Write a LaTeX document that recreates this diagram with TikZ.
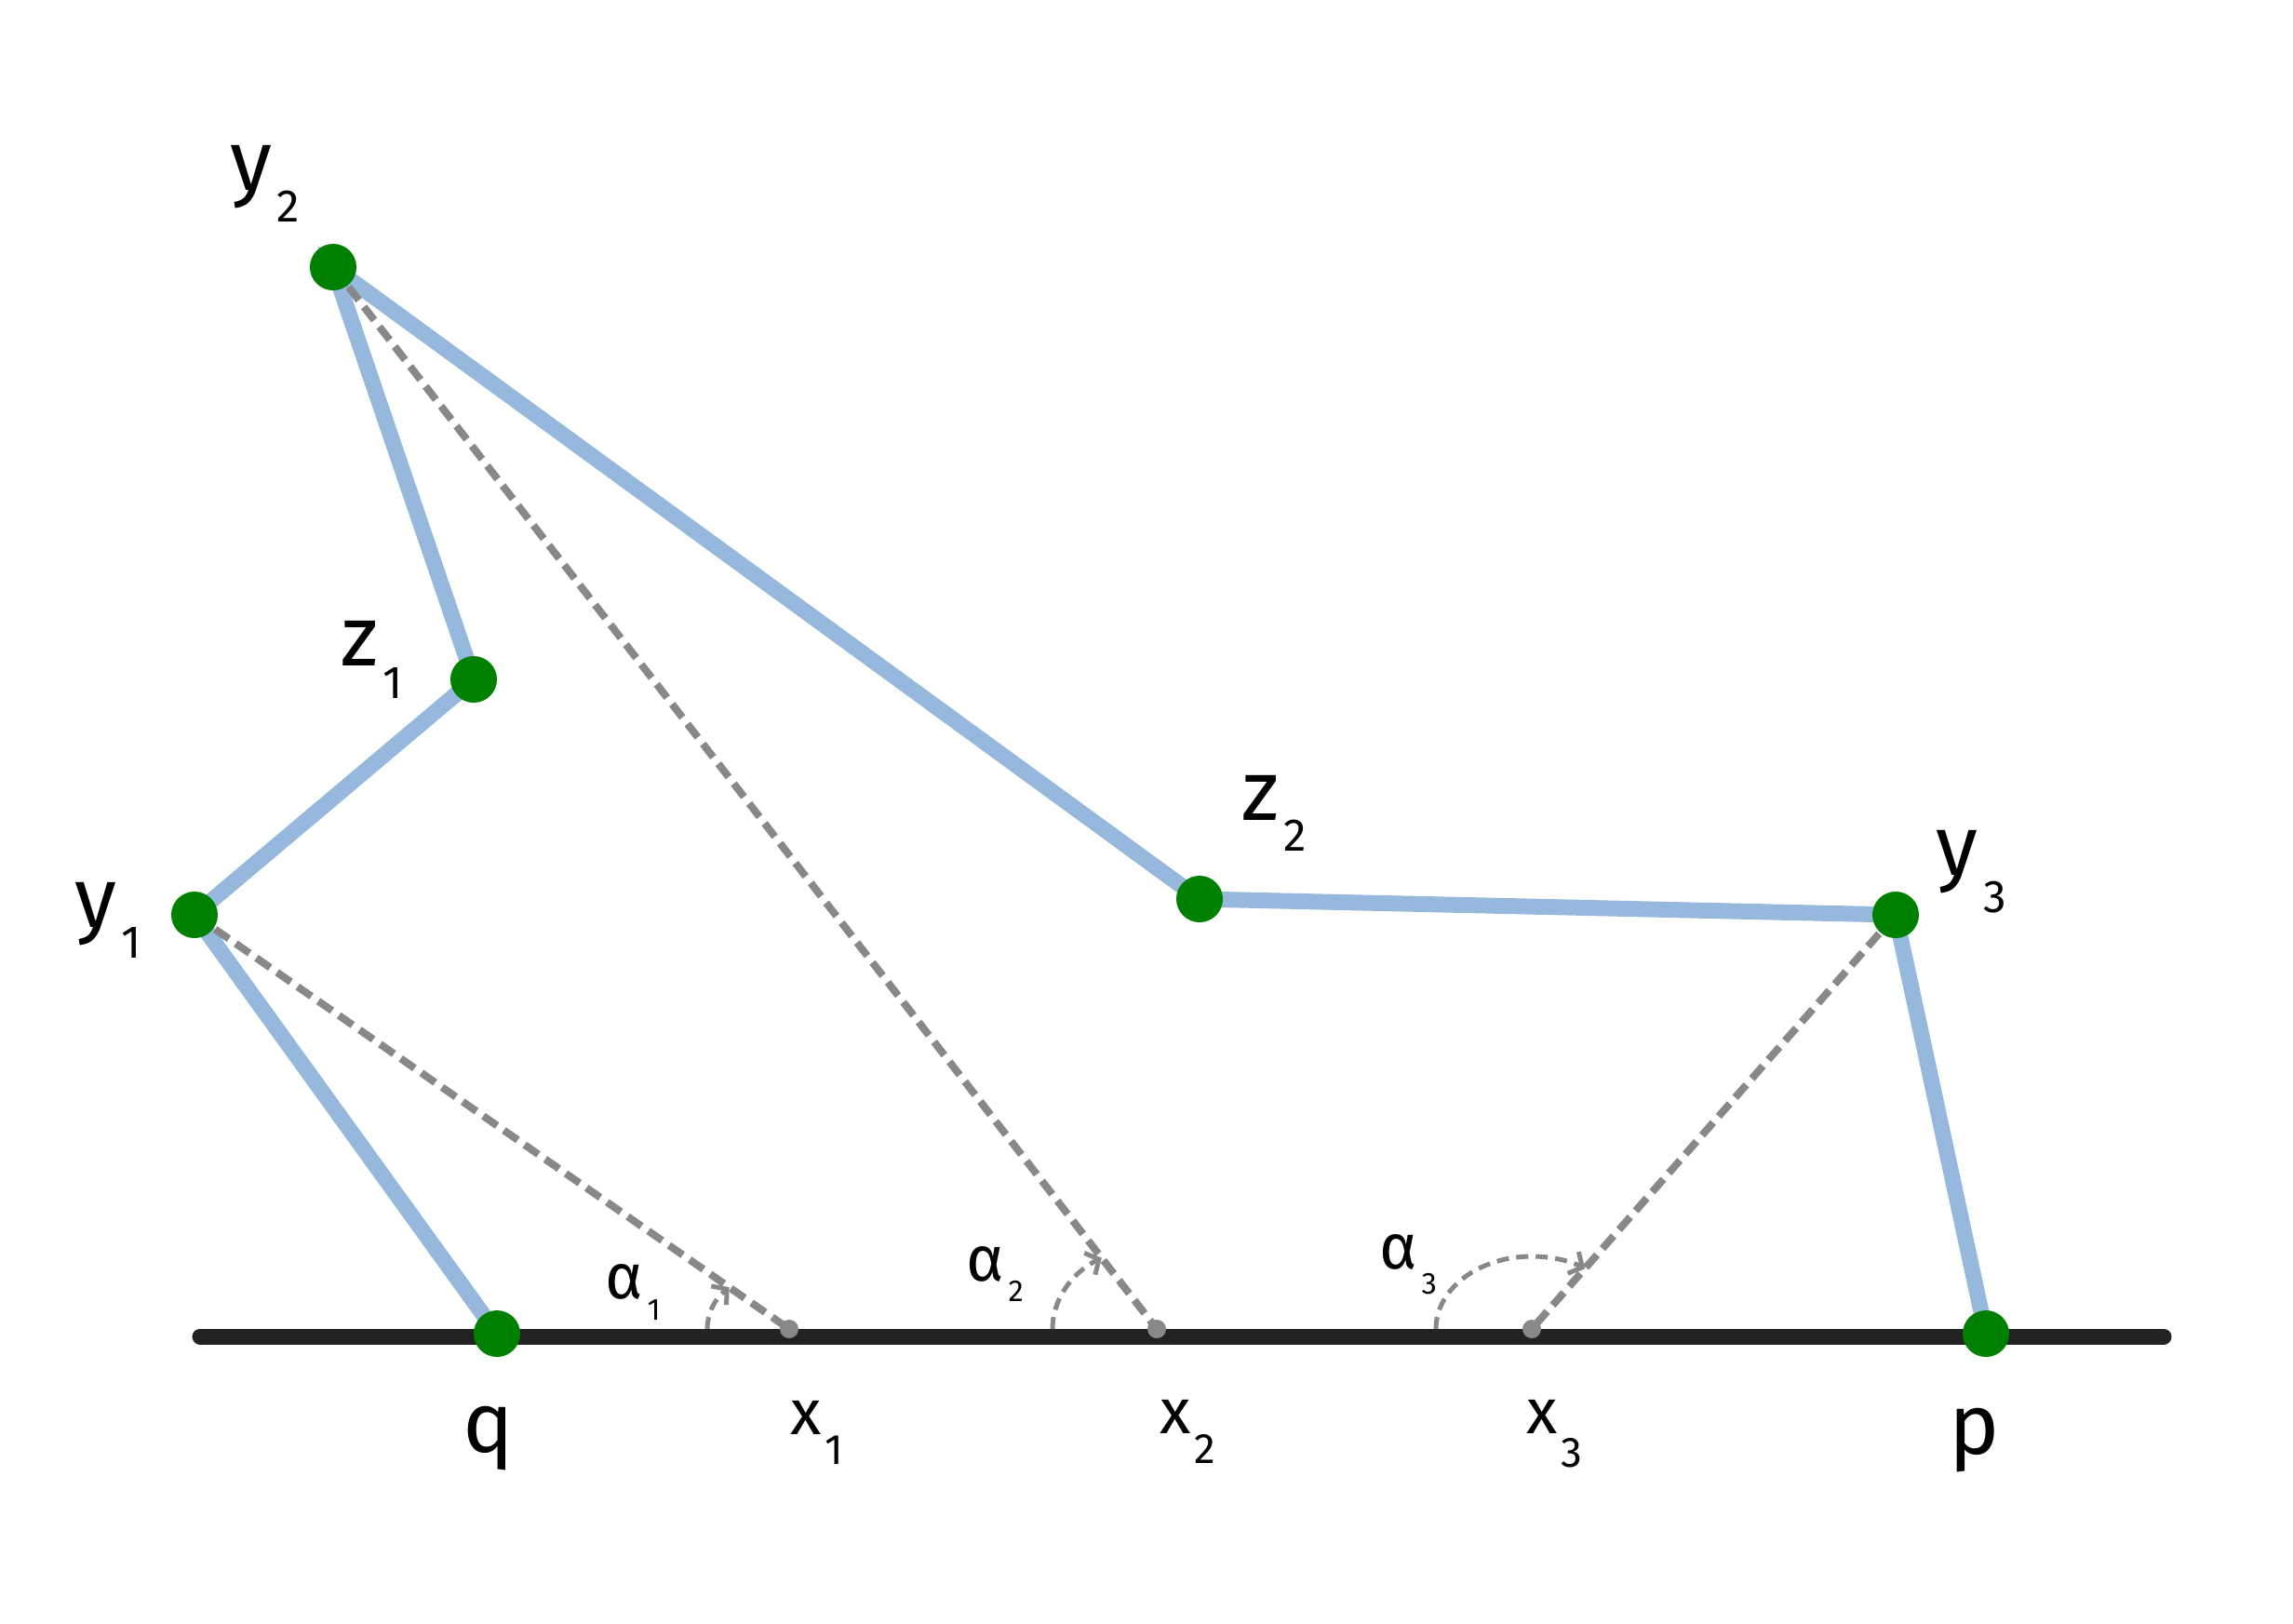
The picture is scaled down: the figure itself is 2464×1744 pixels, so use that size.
\documentclass[tikz,border=0pt]{standalone}
\usepackage{fontspec}
\setmainfont{Fira Sans}[Numbers=Lining]
\usetikzlibrary{arrows.meta}
\definecolor{polyblue}{RGB}{149,184,220}
\definecolor{dotgreen}{RGB}{0,128,0}
\definecolor{axisblack}{RGB}{34,34,34}
\definecolor{dashgray}{RGB}{136,136,136}
% letter, sub-digit, drop
\newcommand{\biglbl}[3]{\fontsize{26}{28}\selectfont #1\hspace{0.06cm}\raisebox{-#3}{\fontsize{14}{16}\selectfont #2}}
\newcommand{\midlbl}[3]{\fontsize{19.5}{22}\selectfont #1\hspace{0.045cm}\raisebox{-#3}{\fontsize{13}{15}\selectfont #2}}
\newcommand{\anglbl}[3]{\fontsize{19.5}{22}\selectfont #1\hspace{0.05cm}\raisebox{-#3}{\fontsize{9.3}{11}\selectfont #2}}
\tikzset{
  polyline/.style={draw=polyblue, line width=0.17cm},
  axisline/.style={draw=axisblack, line width=0.17cm, line cap=round},
  dashline/.style={draw=dashgray, line width=0.08cm, dash pattern=on 0.18cm off 0.09cm},
  anglearc/.style={draw=dashgray, line width=0.05cm, dash pattern=on 0.13cm off 0.08cm,
    -{Straight Barb[length=1.1mm,width=2.6mm,line width=0.05cm]}},
  gdot/.style={circle, fill=dotgreen, minimum size=0.5cm, inner sep=0pt},
  xdot/.style={circle, fill=dashgray, minimum size=0.2cm, inner sep=0pt},
  lbl/.style={anchor=base west, inner sep=0pt, outer sep=0pt, text=black}
}
\begin{document}
\begin{tikzpicture}[x=0.01cm, y=-0.01cm]
\useasboundingbox (0,0) rectangle (2464,1744);
% points
\coordinate (L) at (215,1436);
\coordinate (R) at (2325,1436);
\coordinate (q) at (534,1433);
\coordinate (p) at (2134,1433);
\coordinate (y1) at (209,983);
\coordinate (z1) at (509,730);
\coordinate (y2) at (358,287);
\coordinate (z2) at (1289,966);
\coordinate (y3) at (2037,983);
\coordinate (x1) at (848,1428);
\coordinate (x2) at (1243,1428);
\coordinate (x3) at (1646,1428);
% axis
\draw[axisline] (L) -- (R);
% polygon path
\draw[polyline] (q) -- (y1) -- (z1) -- (y2) -- (z2) -- (y3) -- (p);
% dashed connectors
\draw[dashline] (y1) -- (x1);
\draw[dashline] (y2) -- (x2);
\draw[dashline] (y3) -- (x3);
% angle arcs
\draw[anglearc] (x1) ++(-88,0) arc[start angle=180, end angle=137.1, x radius=0.88cm, y radius=0.66cm];
\draw[anglearc] (x2) ++(-112,0) arc[start angle=180, end angle=121.9, x radius=1.12cm, y radius=0.90cm];
\draw[anglearc] (x3) ++(-103,0) arc[start angle=180, end angle=56.3, x radius=1.03cm, y radius=0.78cm];
% dots
\node[xdot] (dx1) at (x1) {};
\node[xdot] (dx2) at (x2) {};
\node[xdot] (dx3) at (x3) {};
\node[gdot] (dq) at (q) {};
\node[gdot] (dp) at (p) {};
\node[gdot] (dy1) at (y1) {};
\node[gdot] (dz1) at (z1) {};
\node[gdot] (dy2) at (y2) {};
\node[gdot] (dz2) at (z2) {};
\node[gdot] (dy3) at (y3) {};
% labels
\node[lbl] (ly1) at (80,996) {\biglbl{y}{1}{0.33cm}};
\node[lbl] (lz1) at (366,715) {\biglbl{z}{1}{0.35cm}};
\node[lbl] (ly2) at (247,204) {\biglbl{y}{2}{0.34cm}};
\node[lbl] (lz2) at (1334,881) {\biglbl{z}{2}{0.33cm}};
\node[lbl] (ly3) at (2080,940) {\biglbl{y}{3}{0.40cm}};
\node[lbl] (lq) at (497,1560) {\fontsize{26}{28}\selectfont q};
\node[lbl] (lp) at (2094,1562) {\fontsize{26}{28}\selectfont p};
\node[lbl] (lx1) at (849,1541) {\midlbl{x}{1}{0.32cm}};
\node[lbl] (lx2) at (1246,1540) {\midlbl{x}{2}{0.32cm}};
\node[lbl] (lx3) at (1640,1540) {\midlbl{x}{3}{0.36cm}};
\node[lbl] (la1) at (650,1395) {\anglbl{α}{1}{0.23cm}};
\node[lbl] (la2) at (1038,1376) {\anglbl{α}{2}{0.22cm}};
\node[lbl] (la3) at (1482,1363) {\anglbl{α}{3}{0.27cm}};
\end{tikzpicture}
\end{document}
